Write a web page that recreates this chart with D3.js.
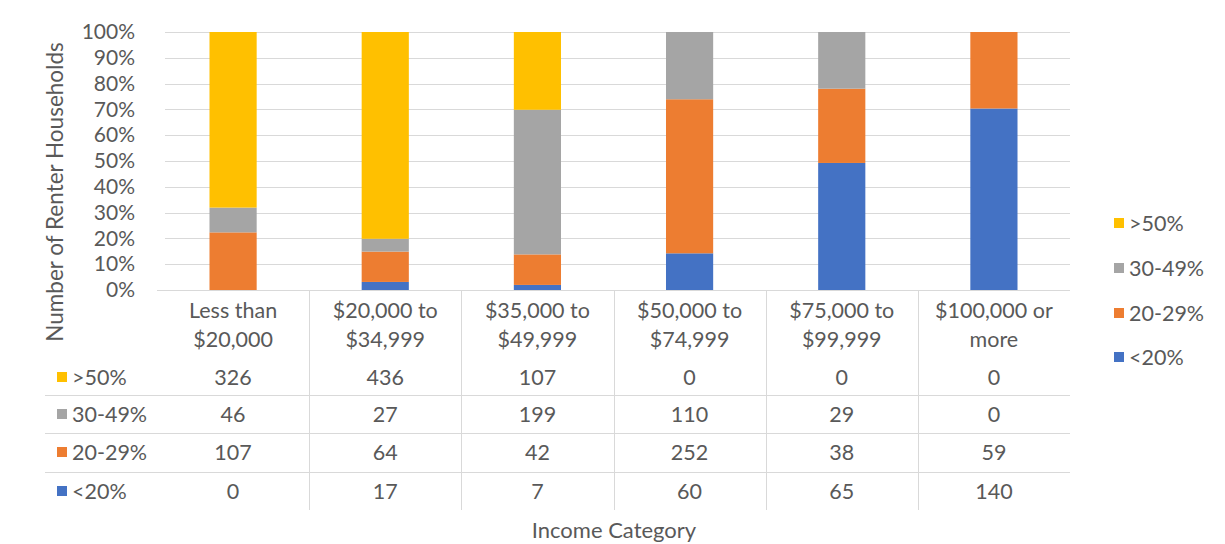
<!DOCTYPE html>
<html>
<head>
<meta charset="utf-8">
<script src="https://cdn.jsdelivr.net/npm/d3@7"></script>
<style>
  html, body { margin: 0; padding: 0; background: #fff; }
  svg { display: block; font-family: Lato, "Open Sans", sans-serif; }
</style>
</head>
<body>
<svg id="chart" width="1225" height="544"></svg>
<script>
// Renter households by income category and share of income spent on rent
const categories = ["Less than $20,000", "$20,000 to $34,999", "$35,000 to $49,999",
                    "$50,000 to $74,999", "$75,000 to $99,999", "$100,000 or more"];
const seriesNames = ["<20%", "20-29%", "30-49%", ">50%"];          // stack order, bottom to top
const under20   = [0, 17, 7, 60, 65, 140];
const from20to29 = [107, 64, 42, 252, 38, 59];
const from30to49 = [46, 27, 199, 110, 29, 0];
const over50    = [326, 436, 107, 0, 0, 0];
const seriesColors = ["#4472C4", "#ED7D31", "#A5A5A5", "#FFC000"];
const yTicks = [0, 0.1, 0.2, 0.3, 0.4, 0.5, 0.6, 0.7, 0.8, 0.9, 1];

const seriesValues = [under20, from20to29, from30to49, over50];
const rows = categories.map((c, i) => {
  const r = { category: c };
  seriesNames.forEach((s, k) => r[s] = seriesValues[k][i]);
  return r;
});

const svg = d3.select("#chart");
const textColor = "#595959";
const gridColor = "#D9D9D9";
const fs = 21.5;

const plot = { left: 157, right: 1070, top: 32, bottom: 290 };

const x = d3.scaleBand().domain(categories).range([plot.left, plot.right]).paddingInner(0.69).paddingOuter(0.345);
const xCol = d3.scaleBand().domain(categories).range([plot.left, plot.right]);
const y = d3.scaleLinear().domain([0, 1]).range([plot.bottom, plot.top]);
const color = d3.scaleOrdinal().domain(seriesNames).range(seriesColors);

// gridlines
svg.append("g")
  .selectAll("line")
  .data(yTicks)
  .join("line")
  .attr("x1", plot.left + 8).attr("x2", plot.right)
  .attr("y1", d => Math.round(y(d)) + 0.5).attr("y2", d => Math.round(y(d)) + 0.5)
  .attr("stroke", gridColor).attr("stroke-width", 1);

// y axis labels
const yAxis = d3.axisLeft(y).tickValues(yTicks).tickFormat(d3.format(".0%")).tickSize(0).tickPadding(0);
svg.append("g")
  .attr("transform", `translate(135,0)`)
  .call(yAxis)
  .call(g => g.select(".domain").remove())
  .call(g => g.selectAll("text").attr("fill", textColor).attr("font-size", 21).attr("font-family", "Lato, sans-serif"));

// stacked 100% bars
const stack = d3.stack().keys(seriesNames).offset(d3.stackOffsetExpand);
const stacked = stack(rows);
svg.append("g")
  .selectAll("g")
  .data(stacked)
  .join("g")
  .attr("fill", d => color(d.key))
  .selectAll("rect")
  .data(d => d)
  .join("rect")
  .attr("x", d => x(d.data.category))
  .attr("width", x.bandwidth())
  .attr("y", d => y(d[1]))
  .attr("height", d => y(d[0]) - y(d[1]));

// axis line
svg.append("line")
  .attr("x1", plot.left).attr("x2", plot.right)
  .attr("y1", plot.bottom + 0.5).attr("y2", plot.bottom + 0.5)
  .attr("stroke", gridColor);

// data table
const table = svg.append("g");
const rowY = [377, 414, 452, 491];      // text centers of the value rows
const rowOrder = [">50%", "30-49%", "20-29%", "<20%"];
const rowLines = [395, 433, 472];

// vertical column separators
table.selectAll("line.vsep")
  .data(categories.slice(1))
  .join("line")
  .attr("class", "vsep")
  .attr("x1", d => Math.round(xCol(d)) + 0.5).attr("x2", d => Math.round(xCol(d)) + 0.5)
  .attr("y1", plot.bottom).attr("y2", 510)
  .attr("stroke", gridColor);

// horizontal row separators
table.selectAll("line.hsep")
  .data(rowLines)
  .join("line")
  .attr("class", "hsep")
  .attr("x1", 45).attr("x2", plot.right)
  .attr("y1", d => d + 0.5).attr("y2", d => d + 0.5)
  .attr("stroke", gridColor);

// category header labels, last word on the second line
const header = table.selectAll("text.cat")
  .data(categories)
  .join("text")
  .attr("class", "cat")
  .attr("text-anchor", "middle")
  .attr("fill", textColor)
  .attr("font-size", fs);
header.each(function (d) {
  const words = d.split(" ");
  const lines = [words.slice(0, -1).join(" "), words[words.length - 1]];
  const cx = xCol(d) + xCol.bandwidth() / 2;
  d3.select(this).selectAll("tspan")
    .data(lines)
    .join("tspan")
    .attr("x", cx)
    .attr("y", (l, i) => 318 + i * 29)
    .text(l => l);
});

// row legend keys and names
rowOrder.forEach((s, r) => {
  table.append("rect")
    .attr("x", 57).attr("y", rowY[r] - 5)
    .attr("width", 10).attr("height", 10)
    .attr("fill", color(s));
  table.append("text")
    .attr("x", 72).attr("y", rowY[r])
    .attr("dy", "0.35em")
    .attr("fill", textColor).attr("font-size", fs)
    .text(s);
  table.append("g")
    .selectAll("text")
    .data(rows)
    .join("text")
    .attr("x", d => xCol(d.category) + xCol.bandwidth() / 2)
    .attr("y", rowY[r])
    .attr("dy", "0.35em")
    .attr("text-anchor", "middle")
    .attr("fill", textColor).attr("font-size", fs)
    .text(d => d[s]);
});

// right legend
const legend = svg.append("g");
const legendY = [223, 268, 313, 357];
rowOrder.forEach((s, i) => {
  legend.append("rect")
    .attr("x", 1114).attr("y", legendY[i] - 5)
    .attr("width", 10).attr("height", 10)
    .attr("fill", color(s));
  legend.append("text")
    .attr("x", 1129).attr("y", legendY[i])
    .attr("dy", "0.35em")
    .attr("fill", textColor).attr("font-size", fs)
    .text(s);
});

// axis titles
svg.append("text")
  .attr("transform", "translate(63,192) rotate(-90)")
  .attr("text-anchor", "middle")
  .attr("fill", textColor).attr("font-size", 22.5)
  .text("Number of Renter Households");

svg.append("text")
  .attr("x", 614).attr("y", 530)
  .attr("dy", "0.35em")
  .attr("text-anchor", "middle")
  .attr("fill", textColor).attr("font-size", 22)
  .text("Income Category");
</script>
</body>
</html>
